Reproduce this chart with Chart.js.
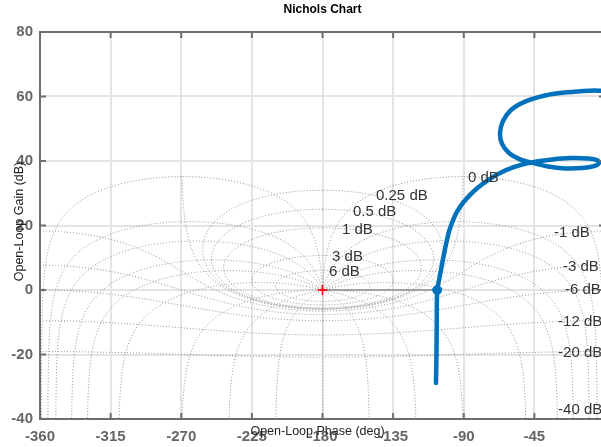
<!DOCTYPE html>
<html>
<head>
<meta charset="utf-8">
<title>Nichols Chart</title>
<script src="https://cdn.jsdelivr.net/npm/chart.js@4.4.0/dist/chart.umd.min.js"></script>
<style>
    html, body { margin: 0; padding: 0; background: #fff; overflow: hidden; }
    #wrap { position: relative; width: 601px; height: 447px; overflow: hidden; }
    #nichols { position: absolute; left: 0; top: 0; }
</style>
</head>
<body>
<div id="wrap"><canvas id="nichols" width="620" height="447"></canvas></div>
<script>
const phaseTicks = [-360, -315, -270, -225, -180, -135, -90, -45, 0];
const gainTicks = [-40, -20, 0, 20, 40, 60, 80];

// open-loop response (deg / dB), low frequency first
const loopPhase = [-1.3, -9.6, -24.2, -38.2, -50.9, -59.9, -65.0, -66.9, -65.6, -61.2, -54.2, -45.9,
    -36.3, -25.5, -14.6, -7.0, -3.8, -5.1, -10.8, -22.3, -33.8, -41.4,
    -50.3, -58.6, -66.9, -74.5, -80.9, -86.0, -90.5, -94.0, -96.8, -99.1, -100.7, -102.3, -103.9, -105.5,
    -106.9, -107.2, -107.4, -107.7];
const loopGain = [61.8, 61.8, 61.3, 60.3, 58.4, 55.8, 52.4, 48.7, 45.3, 42.5, 40.5, 39.4,
    38.3, 37.7, 37.8, 38.4, 39.4, 40.3, 40.8, 40.9, 40.5, 40.0,
    39.2, 38.0, 36.3, 34.1, 31.8, 29.5, 27.0, 24.5, 21.7, 18.6, 15.5, 11.8, 7.8, 3.7,
    0, -9.3, -20.2, -28.8];

// stability margin: critical point and gain crossover
const marginPhase = [-180, -106.9];
const marginGain = [0, 0];

// closed-loop contours of the grid
const gridGains = [6, 3, 1, 0.5, 0.25, 0, -1, -3, -6, -12, -20, -40];
const gridPhases = [1, 5, 10, 20, 30, 50, 90, 120, 150, 180];

// contour labels
const labelText = ['6 dB', '3 dB', '1 dB', '0.5 dB', '0.25 dB', '0 dB', '-1 dB', '-3 dB', '-6 dB', '-12 dB', '-20 dB', '-40 dB'];
const labelPhase = [-175.9, -173.9, -167.6, -160.6, -145.9, -87.3, -32.5, -26.8, -25.5, -29.9, -29.9, -29.9];
const labelGain = [5.6, 10.2, 18.6, 24.2, 29.1, 34.7, 17.7, 7.1, 0, -9.9, -19.5, -37.2];

const FONT = '"Liberation Sans", Arial, Helvetica, sans-serif';
const AXIS = '#6e6e6e';

const range = (a, b, step) => {
    const out = [];
    const n = Math.round((b - a) / step);
    for (let i = 0; i <= n; i++) out.push(a + i * step);
    return out;
};

const deg = Math.PI / 180;
const thetas = [...range(0, 3, 0.02), ...range(3.5, 356.5, 0.5), ...range(357, 360, 0.02)];
const loopSamples = [...range(-80, -10, 0.5), ...range(-9.95, -1, 0.05), ...range(-0.995, 1, 0.005),
    ...range(1.05, 10, 0.05), ...range(10.5, 80, 0.5)];

// constant closed-loop magnitude (M contour)
const isoGain = db => {
    const m = Math.pow(10, db / 20);
    const pts = [];
    thetas.forEach(th => {
        if (db === 0 && (th < 1 || th > 359)) return;
        const tr = m * Math.cos(th * deg), ti = m * Math.sin(th * deg);
        const dr = 1 - tr, di = -ti;
        const d2 = dr * dr + di * di;
        const gr = (tr * dr + ti * di) / d2, gi = (ti * dr - tr * di) / d2;
        let ph;
        if (m < 1) ph = th - Math.atan2(di, dr) / deg - 360;
        else {
            ph = Math.atan2(gi, gr) / deg;
            if (ph > 0) ph -= 360;
        }
        const g = 10 * Math.log10(gr * gr + gi * gi);
        if (g > -50 && g < 90) pts.push({ x: ph, y: g });
    });
    return pts;
};

// constant closed-loop phase (N contour), mirrored about -180
const isoPhase = (phi, mirror) => {
    const pts = [];
    loopSamples.forEach(g => {
        const r = Math.pow(10, g / 20);
        const dr = 1 - r * Math.cos(phi * deg), di = r * Math.sin(phi * deg);
        const ph = -phi - Math.atan2(di, dr) / deg;
        const gain = g - 10 * Math.log10(dr * dr + di * di);
        if (gain > -50 && gain < 90) pts.push({ x: mirror ? -360 - ph : ph, y: gain });
    });
    return pts;
};

const contourStyle = {
    showLine: true, borderColor: '#8c8c8c', borderWidth: 1, borderDash: [1, 2],
    pointRadius: 0, fill: false, tension: 0, clip: 0, order: 5
};

const contours = [];
gridGains.forEach(db => contours.push({ ...contourStyle, data: isoGain(db) }));
gridPhases.forEach(p => {
    contours.push({ ...contourStyle, data: isoPhase(p, false) });
    if (p !== 180) contours.push({ ...contourStyle, data: isoPhase(p, true) });
});

const frame = {
    id: 'frame',
    afterDraw(chart) {
        const { ctx, chartArea: a, scales: { x, y } } = chart;
        ctx.save();

        // contour labels
        ctx.font = '15px ' + FONT;
        ctx.fillStyle = '#333';
        ctx.textAlign = 'left';
        ctx.textBaseline = 'middle';
        labelText.forEach((t, i) => ctx.fillText(t, x.getPixelForValue(labelPhase[i]), y.getPixelForValue(labelGain[i])));

        // box and inward ticks
        ctx.strokeStyle = AXIS;
        ctx.lineWidth = 2;
        ctx.beginPath();
        ctx.moveTo(a.right, a.top); ctx.lineTo(a.left, a.top); ctx.lineTo(a.left, a.bottom); ctx.lineTo(a.right, a.bottom); ctx.lineTo(a.right, a.top);
        phaseTicks.forEach(v => {
            const px = x.getPixelForValue(v);
            ctx.moveTo(px, a.top); ctx.lineTo(px, a.top + 6);
            ctx.moveTo(px, a.bottom); ctx.lineTo(px, a.bottom - 6);
        });
        gainTicks.forEach(v => {
            const py = y.getPixelForValue(v);
            ctx.moveTo(a.left, py); ctx.lineTo(a.left + 6, py);
            ctx.moveTo(a.right, py); ctx.lineTo(a.right - 6, py);
        });
        ctx.stroke();

        // titles
        ctx.fillStyle = '#000';
        ctx.textAlign = 'center';
        ctx.font = 'bold 12px ' + FONT;
        ctx.fillText('Nichols Chart', (a.left + a.right) / 2, 10);
        ctx.font = '12.5px ' + FONT;
        ctx.fillStyle = '#222';
        ctx.fillText('Open-Loop Phase (deg)', (a.left + a.right) / 2 - 5, 432);
        ctx.translate(20, (a.top + a.bottom) / 2 - 4);
        ctx.rotate(-Math.PI / 2);
        ctx.fillText('Open-Loop Gain (dB)', 0, 0);
        ctx.restore();
    }
};

new Chart(document.getElementById('nichols'), {
    type: 'scatter',
    data: {
        datasets: [
            {
                data: marginPhase.slice(1).map((p, i) => ({ x: p, y: marginGain[i + 1] })),
                pointRadius: 4.5, pointBackgroundColor: '#0072bd', pointBorderColor: '#0072bd', order: 0
            },
            {
                data: loopPhase.map((p, i) => ({ x: p, y: loopGain[i] })),
                showLine: true, borderColor: '#0072bd', borderWidth: 4.5, pointRadius: 0, tension: 0.3,
                borderCapStyle: 'round', borderJoinStyle: 'round', order: 1
            },
            {
                data: marginPhase.slice(0, 1).map((p, i) => ({ x: p, y: marginGain[i] })),
                pointStyle: 'cross', pointRadius: 5, borderWidth: 1.5, pointBorderColor: '#ff0000', order: 2
            },
            {
                data: marginPhase.map((p, i) => ({ x: p, y: marginGain[i] })),
                showLine: true, borderColor: '#8c8c8c', borderWidth: 1.5, pointRadius: 0, order: 3
            },
            ...contours
        ]
    },
    options: {
        responsive: false,
        devicePixelRatio: 1,
        animation: false,
        events: [],
        layout: { padding: { top: 32, right: 15, left: 0, bottom: 0 } },
        plugins: { legend: { display: false }, tooltip: { enabled: false }, title: { display: false } },
        scales: {
            x: {
                type: 'linear', min: -360, max: 0,
                afterFit: s => { s.height = 28; },
                afterBuildTicks: s => { s.ticks = phaseTicks.map(v => ({ value: v })); },
                grid: { color: '#e4e4e4', lineWidth: 2, drawTicks: false },
                border: { display: false },
                ticks: { color: '#666', padding: 9, maxRotation: 0, autoSkip: false, font: { family: FONT, size: 15, weight: 'bold' } }
            },
            y: {
                type: 'linear', min: -40, max: 80,
                afterFit: s => { s.width = 40; },
                afterBuildTicks: s => { s.ticks = gainTicks.map(v => ({ value: v })); },
                grid: { color: '#e4e4e4', lineWidth: 2, drawTicks: false },
                border: { display: false },
                ticks: { color: '#666', padding: 7, font: { family: FONT, size: 15, weight: 'bold' } }
            }
        }
    },
    plugins: [frame]
});
</script>
</body>
</html>
